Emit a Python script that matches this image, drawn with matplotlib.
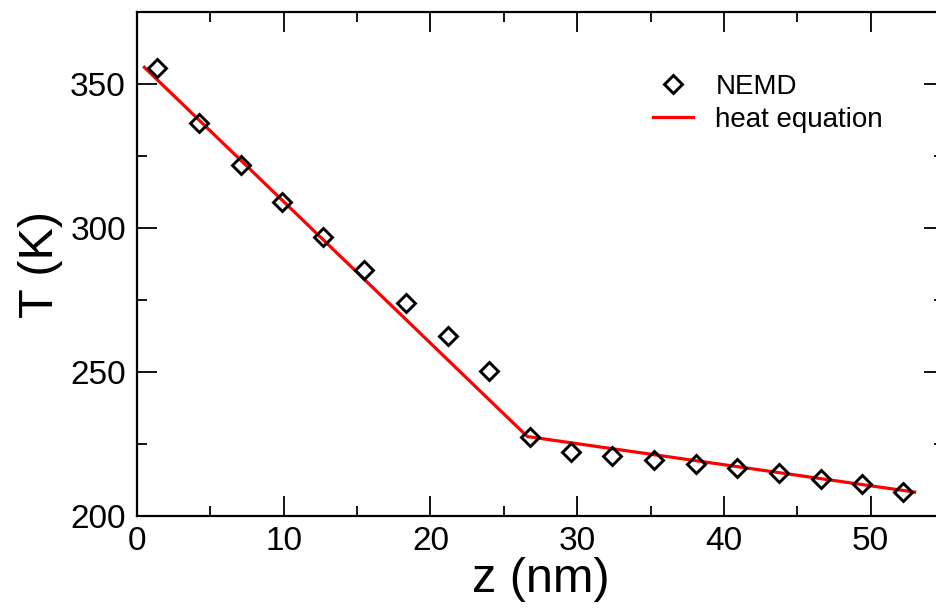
import numpy as np
import matplotlib
matplotlib.use("Agg")
import matplotlib.pyplot as plt
from matplotlib.ticker import MultipleLocator

# --- DATA ---
z_nemd = [1.39, 4.21, 7.06, 9.86, 12.69, 15.49, 18.35, 21.17, 23.97, 26.77,
          29.6, 32.4, 35.25, 38.08, 40.9, 43.75, 46.6, 49.4, 52.2]
T_nemd = [355.6, 336.6, 322.0, 309.0, 296.9, 285.3, 274.0, 262.4, 250.2, 227.4,
          222.2, 220.8, 219.4, 218.0, 216.6, 214.8, 212.8, 211.0, 208.2]

z_heat = [0.5, 26.6, 53.0]
T_heat = [355.8, 227.6, 208.3]

x_ticks = [0, 10, 20, 30, 40, 50]
y_ticks = [200, 250, 300, 350]

# --- STYLE ---
plt.rcParams['font.family'] = ['Liberation Sans', 'DejaVu Sans']

fig = plt.figure(figsize=(9.36, 6.12), dpi=100)
ax = fig.add_axes([137 / 936, 96 / 612, (944 - 137) / 936, (516 - 12) / 612])

ax.plot(z_heat, T_heat, color='red', lw=2.3, label='heat equation', zorder=2)
ax.plot(z_nemd, T_nemd, ls='none', marker='D', ms=9, mfc='none', mec='black',
        mew=2.1, label='NEMD', zorder=3)

ax.set_xlim(0, 55)
ax.set_ylim(200, 375)
ax.set_xticks(x_ticks)
ax.set_yticks(y_ticks)
ax.xaxis.set_minor_locator(MultipleLocator(5))
ax.yaxis.set_minor_locator(MultipleLocator(25))

ax.tick_params(which='both', direction='in', top=True, right=True, width=1.3,
               labelsize=24)
ax.tick_params(which='major', length=14.4)
ax.tick_params(which='minor', length=7.2)
ax.tick_params(axis='x', pad=7)
ax.tick_params(axis='y', pad=8)
for s in ax.spines.values():
    s.set_linewidth(1.6)

ax.set_xlabel('z (nm)', fontsize=35, labelpad=0)
ax.set_ylabel('T (K)', fontsize=35, labelpad=5)

# legend: marker entry first, then line
h, l = ax.get_legend_handles_labels()
ax.legend(h[::-1], l[::-1], loc='upper left', frameon=False, fontsize=20,
          handlelength=1.45, handletextpad=0.8, labelspacing=0.25, borderpad=0,
          bbox_to_anchor=(639 / 936, 1 - 60 / 612), bbox_transform=fig.transFigure)

fig.savefig('out.png', dpi=100)
